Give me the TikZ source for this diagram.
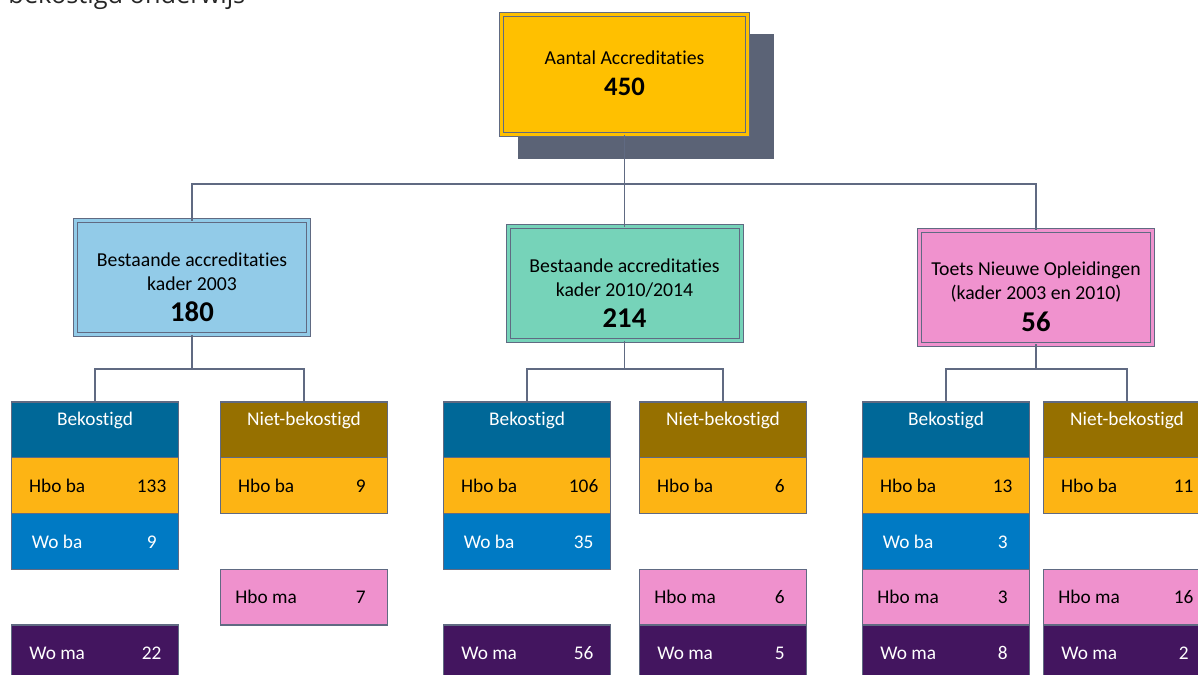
\documentclass[tikz,border=0pt]{standalone}
\usepackage{fontspec}
\setmainfont{Carlito}[Ligatures=NoCommon]
\newfontfamily\kopfont{Open Sans}
\usepackage{tikz}
\usetikzlibrary{shadows}

\definecolor{lijnC}{RGB}{96,106,130}
\definecolor{schaduwC}{RGB}{91,99,118}
\definecolor{totC}{RGB}{255,192,0}
\definecolor{oudC}{RGB}{146,203,232}
\definecolor{nwC}{RGB}{118,211,185}
\definecolor{tnoC}{RGB}{240,146,206}
\definecolor{bekC}{RGB}{0,104,152}
\definecolor{nietC}{RGB}{150,112,0}
\definecolor{hbobaC}{RGB}{253,180,20}
\definecolor{wobaC}{RGB}{0,122,196}
\definecolor{hbomaC}{RGB}{239,145,205}
\definecolor{womaC}{RGB}{67,21,95}

\tikzset{
every picture/.style={line width=0.75pt},
conn/.style={draw=lijnC, line width=0.9pt},
kader/.style={draw=lijnC, fill=#1, double=#1, double distance=2.25pt,
  inner sep=0pt, outer sep=0pt, align=center,
  font=\fontsize{14.8}{18}\selectfont},
topbox/.style={kader=totC, minimum width=184.5pt, minimum height=90pt,
  text height=31.5pt, text depth=0pt},
midbox/.style={kader=#1, minimum width=174.75pt, minimum height=85.5pt,
  text height=66pt, text depth=0pt},
cell/.style={draw=lijnC, line width=1pt, inner sep=0pt, outer sep=0pt,
  minimum width=125.25pt, minimum height=41.8pt,
  font=\fontsize{14.5}{18}\selectfont},
head/.style={cell, fill=#1, text=white, text height=10pt, text depth=16pt},
row/.style 2 args={node contents={\makebox[68.5pt]{#1}\hspace{16.5pt}\makebox[40.25pt]{#2}}},
hboba/.style={fill=hbobaC, text=black},
woba/.style={fill=wobaC, text=white},
hboma/.style={fill=hbomaC, text=black},
woma/.style={fill=womaC, text=white}
}

\begin{document}
\begin{tikzpicture}[x=0.75pt, y=-0.75pt]
  \path[use as bounding box, fill=white] (0,0) rectangle (1198,674);
  \node[anchor=base west, inner sep=0pt, text=black!85,
    font=\kopfont\fontsize{19}{22}\selectfont] (kop) at (8,4) {bekostigd onderwijs};

  % totaal
  \node[topbox, drop shadow={shadow xshift=15.75pt, shadow yshift=-15.75pt,
    shadow scale=1.04, fill=schaduwC, opacity=1}]
    (tot) at (624.5,74.5) {Aantal Accreditaties\\[5pt]{\fontsize{20}{24}\selectfont\bfseries 450}};

  % kaders
  \node[midbox=oudC] (oud) at (192,277.5)
    {Bestaande accreditaties\\kader 2003\\[5.5pt]{\fontsize{21.5}{24}\selectfont\bfseries 180}};
  \node[midbox=nwC] (nw) at (624.5,283.5)
    {Bestaande accreditaties\\kader 2010/2014\\[5.5pt]{\fontsize{21.5}{24}\selectfont\bfseries 214}};
  \node[midbox=tnoC] (tno) at (1036,287)
    {Toets Nieuwe Opleidingen\\(kader 2003 en 2010)\\[5.5pt]{\fontsize{21.5}{24}\selectfont\bfseries 56}};

  \coordinate (hub) at (624.5,184);
  \draw[conn] (tot.south) -- (hub);
  \draw[conn] (oud.north) |- (hub) -| (tno.north);
  \draw[conn] (hub) -- (nw.north);

  % bekostigd / niet-bekostigd
  \foreach \nm/\x/\kl/\txt in {oudB/11.5/bekC/Bekostigd, oudN/220.5/nietC/Niet-bekostigd,
      nwB/443.5/bekC/Bekostigd, nwN/639.5/nietC/Niet-bekostigd,
      tnoB/862.5/bekC/Bekostigd, tnoN/1043.5/nietC/Niet-bekostigd}
    \node[head=\kl, anchor=north west] (\nm) at (\x,402) {\txt};

  \foreach \k/\a/\b in {oud/oudB/oudN, nw/nwB/nwN, tno/tnoB/tnoN} {
    \coordinate (\k j) at (\k.south |- 0,369);
    \draw[conn] (\k.south) -- (\k j);
    \draw[conn] (\a.north) |- (\k j) -| (\b.north);
  }

  % opleidingen
  \foreach \nm/\x/\y/\soort/\lab/\num in {
      oudB1/11.5/457.75/hboba/Hbo ba/133, oudB2/11.5/513.5/woba/Wo ba/9,
      oudB4/11.5/625/woma/Wo ma/22,
      oudN1/220.5/457.75/hboba/Hbo ba/9, oudN3/220.5/569.25/hboma/Hbo ma/7,
      nwB1/443.5/457.75/hboba/Hbo ba/106, nwB2/443.5/513.5/woba/Wo ba/35,
      nwB4/443.5/625/woma/Wo ma/56,
      nwN1/639.5/457.75/hboba/Hbo ba/6, nwN3/639.5/569.25/hboma/Hbo ma/6,
      nwN4/639.5/625/woma/Wo ma/5,
      tnoB1/862.5/457.75/hboba/Hbo ba/13, tnoB2/862.5/513.5/woba/Wo ba/3,
      tnoB3/862.5/569.25/hboma/Hbo ma/3, tnoB4/862.5/625/woma/Wo ma/8,
      tnoN1/1043.5/457.75/hboba/Hbo ba/11, tnoN3/1043.5/569.25/hboma/Hbo ma/16,
      tnoN4/1043.5/625/woma/Wo ma/2}
    \node (\nm) at (\x,\y) [cell, \soort, anchor=north west, row={\lab}{\num}];
\end{tikzpicture}
\end{document}
